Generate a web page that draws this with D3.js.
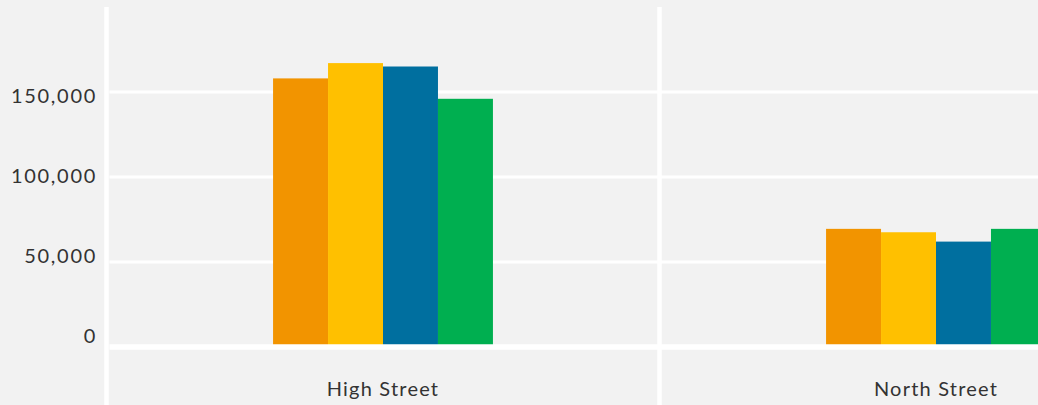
<!DOCTYPE html>
<html>
<head>
<meta charset="utf-8">
<script src="https://cdn.jsdelivr.net/npm/d3@7"></script>
<style>
  html, body { margin: 0; padding: 0; background: #f2f2f2; }
  svg { display: block; }
  text { font-family: Lato, "Open Sans", sans-serif; fill: #333; }
</style>
</head>
<body>
<div id="chart"></div>
<script>
// chart data
const streets = ['High Street', 'North Street'];
const seriesNames = ['Series 1', 'Series 2', 'Series 3', 'Series 4'];
const seriesColors = ['#f29400', '#ffc000', '#006f9f', '#00af50'];
const series1 = [158000, 69500];
const series2 = [167000, 67500];
const series3 = [165000, 62000];
const series4 = [146000, 69500];
const yTicks = [0, 50000, 100000, 150000];

const allSeries = [series1, series2, series3, series4];
const width = 1038;
const height = 405;

const svg = d3.select('#chart')
  .append('svg')
  .attr('width', width)
  .attr('height', height);

svg.append('rect')
  .attr('width', width)
  .attr('height', height)
  .attr('fill', '#f2f2f2');

// step of 553px per street, right street partly cut off by the frame
const x = d3.scaleBand()
  .domain(streets)
  .range([106.5, 106.5 + 553 * streets.length])
  .padding(0);

const x1 = d3.scaleBand()
  .domain(seriesNames)
  .range([0, x.bandwidth()])
  .paddingInner(0)
  .paddingOuter(3.03);

const y = d3.scaleLinear()
  .domain([0, 200000])
  .range([347, 7]);

// labels sit on a slightly tighter scale than the gridlines in the original
const yLabel = d3.scaleLinear()
  .domain([0, 150000])
  .range([336, 96]);

// gridlines
svg.append('g')
  .selectAll('line')
  .data(yTicks.filter(d => d > 0))
  .enter().append('line')
  .attr('x1', x.range()[0] + 3)
  .attr('x2', width)
  .attr('y1', d => y(d))
  .attr('y2', d => y(d))
  .attr('stroke', '#fff')
  .attr('stroke-width', 3);

// bars
const groups = svg.append('g')
  .selectAll('g')
  .data(streets)
  .enter().append('g')
  .attr('transform', d => `translate(${x(d)},0)`);

groups.selectAll('rect')
  .data((d, i) => allSeries.map((s, j) => ({ name: seriesNames[j], value: s[i], color: seriesColors[j] })))
  .enter().append('rect')
  .attr('x', d => x1(d.name))
  .attr('width', x1.bandwidth())
  .attr('y', d => y(d.value))
  .attr('height', d => y(0) - y(d.value))
  .attr('fill', d => d.color);

// zero line
svg.append('line')
  .attr('x1', x.range()[0] + 3)
  .attr('x2', width)
  .attr('y1', y(0))
  .attr('y2', y(0))
  .attr('stroke', '#fff')
  .attr('stroke-width', 5.5);

// vertical separators between streets
const bounds = streets.map(d => x(d)).concat([x(streets[streets.length - 1]) + x.step()]);
svg.append('g')
  .selectAll('line')
  .data(bounds)
  .enter().append('line')
  .attr('x1', d => d)
  .attr('x2', d => d)
  .attr('y1', y(200000))
  .attr('y2', height)
  .attr('stroke', '#fff')
  .attr('stroke-width', 4.5);

// y axis labels
const yAxis = svg.append('g')
  .attr('transform', 'translate(97,0)')
  .call(d3.axisLeft(yLabel).tickValues(yTicks).tickSize(0).tickPadding(0).tickFormat(d3.format(',')));
yAxis.select('.domain').remove();
yAxis.selectAll('text')
  .style('font-family', 'Lato, "Open Sans", sans-serif')
  .style('font-size', '20px')
  .style('letter-spacing', '1.7px')
  .attr('fill', '#363636');

// x axis labels
const xAxis = svg.append('g')
  .attr('transform', 'translate(0,390)')
  .call(d3.axisBottom(x).tickSize(0).tickPadding(0));
xAxis.select('.domain').remove();
xAxis.selectAll('text')
  .attr('dy', '0.32em')
  .style('font-family', 'Lato, "Open Sans", sans-serif')
  .style('font-size', '20px')
  .style('letter-spacing', '1.2px')
  .attr('fill', '#363636');
</script>
</body>
</html>
